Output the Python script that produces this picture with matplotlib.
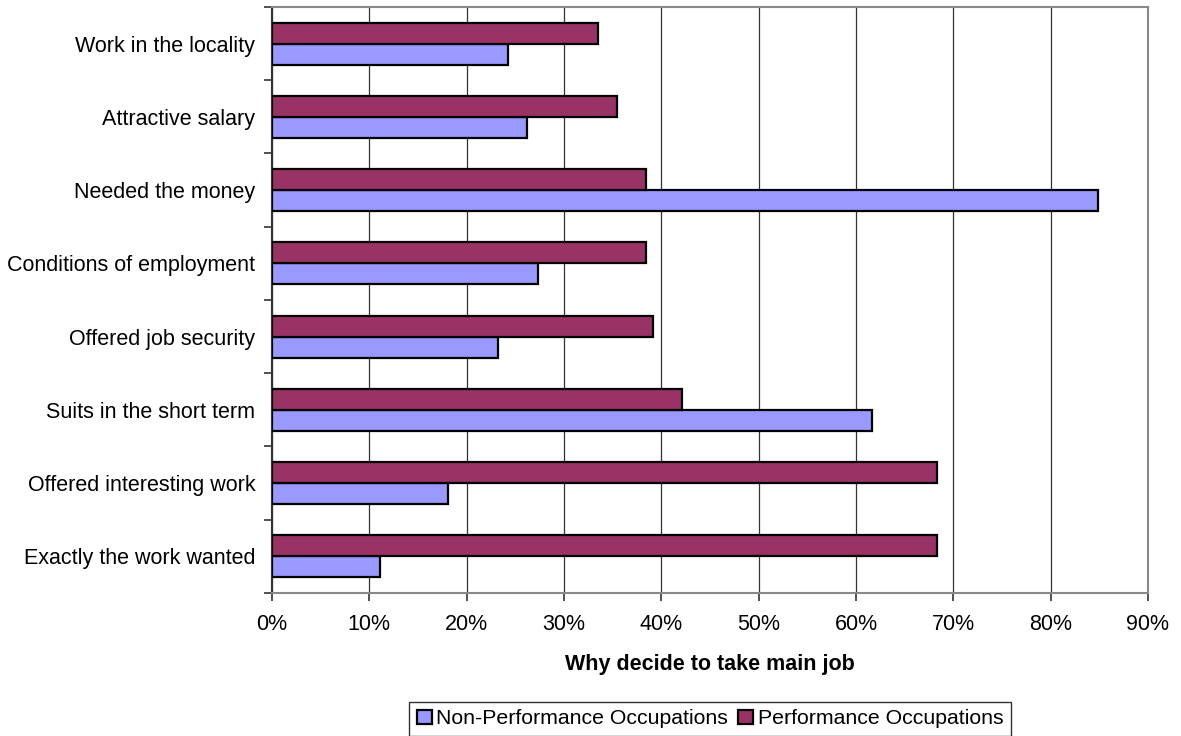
import matplotlib.pyplot as plt
import numpy as np
from matplotlib.ticker import FuncFormatter, MultipleLocator, FixedLocator

plt.rcParams['font.family'] = ['Liberation Sans', 'DejaVu Sans']

reasons = [
    'Work in the locality',
    'Attractive salary',
    'Needed the money',
    'Conditions of employment',
    'Offered job security',
    'Suits in the short term',
    'Offered interesting work',
    'Exactly the work wanted',
]
non_performance = [24.2, 26.2, 84.9, 27.3, 23.2, 61.6, 18.1, 11.1]
performance = [33.5, 35.4, 38.4, 38.4, 39.1, 42.1, 68.3, 68.3]

blue = '#9999FF'
maroon = '#993366'

fig = plt.figure(figsize=(11.81, 7.36), dpi=100)
ax = fig.add_axes([0.2303, 0.1943, 0.972 - 0.2303, 0.9905 - 0.1943])

y = np.arange(len(reasons))
h = 0.286
ax.barh(y + h / 2, non_performance, height=h, color=blue, edgecolor='black',
        linewidth=1.6, label='Non-Performance Occupations', zorder=3)
ax.barh(y - h / 2, performance, height=h, color=maroon, edgecolor='black',
        linewidth=1.6, label='Performance Occupations', zorder=3)

ax.set_xlim(0, 90)
ax.set_ylim(len(reasons) - 0.5, -0.5)

ax.xaxis.set_major_locator(MultipleLocator(10))
ax.xaxis.set_major_formatter(FuncFormatter(lambda v, p: f'{v:.0f}%'))
ax.grid(axis='x', color='#333333', linewidth=0.9, zorder=0)

# category labels at the centres, tick marks on the boundaries
ax.set_yticks(y)
ax.set_yticklabels(reasons)
ax.yaxis.set_minor_locator(FixedLocator(np.arange(-0.5, len(reasons), 1.0)))
ax.tick_params(axis='y', which='major', length=0, pad=12, labelsize=15.5)
ax.tick_params(axis='y', which='minor', length=6, width=1.2, color='#333333')
ax.tick_params(axis='x', which='major', length=6, width=1.2, color='#333333',
               labelsize=15.5, pad=9)

for side in ['top', 'right', 'bottom']:
    ax.spines[side].set_color('#888888')
    ax.spines[side].set_linewidth(1.5)
ax.spines['left'].set_color('#333333')
ax.spines['left'].set_linewidth(1.5)

ax.set_xlabel('Why decide to take main job', fontsize=15.5, fontweight='bold',
              labelpad=14)

leg = fig.legend(loc='upper center', bbox_to_anchor=(0.6012, 1 - 702 / 736),
                 ncol=2, fontsize=15.3, frameon=True, fancybox=False,
                 handlelength=0.7, handleheight=0.7, handletextpad=0.2,
                 columnspacing=0.5, borderpad=0.35, borderaxespad=0)
leg.get_frame().set_edgecolor('black')
leg.get_frame().set_linewidth(1.0)

fig.savefig('out.png', dpi=100)
